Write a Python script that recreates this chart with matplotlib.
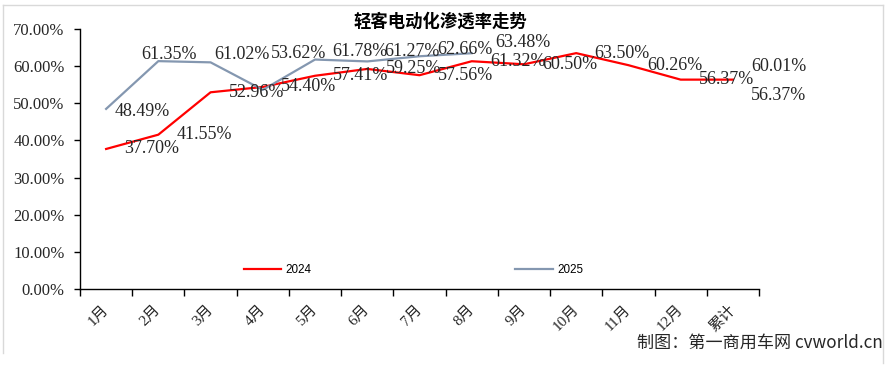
import numpy as np
import matplotlib
matplotlib.use('Agg')
import matplotlib.pyplot as plt
import matplotlib.transforms as mtransforms
from matplotlib.lines import Line2D

# 数据
categories = ['1月', '2月', '3月', '4月', '5月', '6月', '7月', '8月', '9月',
              '10月', '11月', '12月', '累计']
rate_2024 = [37.70, 41.55, 52.96, 54.40, 57.41, 59.25, 57.56, 61.32, 60.50,
             63.50, 60.26, 56.37, 56.37]
rate_2025 = [48.49, 61.35, 61.02, 53.62, 61.78, 61.27, 62.66, 63.48, np.nan,
             np.nan, np.nan, np.nan, 60.01]
yticks = [0, 10, 20, 30, 40, 50, 60, 70]

# 标签偏移 (像素)
off_2024 = [(46, 0)] * 12 + [(46, 16)]
off_2025 = [(36, 3), (11, -7), (31, -8), (36, -36), (45, -8), (45, -10),
            (45, -7), (51, -11), None, None, None, None, (46, 0)]

RED = '#FF0000'
GRAY = '#8497B0'
TXT = '#262626'
num_font = ['Liberation Serif', 'Noto Sans CJK SC']

fig = plt.figure(figsize=(8.88, 3.65), dpi=100)
ax = fig.add_axes([80 / 888, 1 - 289 / 365, 679 / 888, 260 / 365])

x = np.arange(len(categories))
ax.plot(x, rate_2024, color=RED, lw=1.6, label='2024')
ax.plot(x, rate_2025, color=GRAY, lw=1.6, label='2025')

px = 72 / 100  # 像素 -> 点
for i, v in enumerate(rate_2024):
    dx, dy = off_2024[i]
    ax.annotate(f'{v:.2f}%', (i, v), xytext=(dx * px, -dy * px),
                textcoords='offset points', ha='center', va='center',
                fontsize=13, family=num_font, color=TXT)
for i, v in enumerate(rate_2025):
    if off_2025[i] is None or np.isnan(v):
        continue
    dx, dy = off_2025[i]
    ax.annotate(f'{v:.2f}%', (i, v), xytext=(dx * px, -dy * px),
                textcoords='offset points', ha='center', va='center',
                fontsize=13, family=num_font, color=TXT)

ax.set_xlim(-0.5, len(categories) - 0.5)
ax.set_ylim(0, 70)
ax.set_yticks(yticks)
ax.set_yticklabels([f'{t:.2f}%' for t in yticks], family=num_font,
                   fontsize=12, color=TXT)
ax.tick_params(axis='y', length=4, width=1, pad=7, direction='out')

ax.set_xticks(np.arange(-0.5, len(categories)), minor=False)
ax.set_xticklabels([])
ax.set_xticks(x, minor=True)
ax.set_xticklabels(categories, minor=True, rotation=45, ha='right',
                   family=num_font, fontsize=11, color=TXT)
ax.tick_params(axis='x', which='major', length=5, width=1, direction='out')
ax.tick_params(axis='x', which='minor', length=0, pad=10)
shift = mtransforms.ScaledTranslation(5 / 100, 0, fig.dpi_scale_trans)
for lab in ax.get_xticklabels(minor=True):
    lab.set_transform(lab.get_transform() + shift)

for s in ['top', 'right']:
    ax.spines[s].set_visible(False)
for s in ['left', 'bottom']:
    ax.spines[s].set_color('black')
    ax.spines[s].set_linewidth(1)

ax.legend(loc='center', bbox_to_anchor=(0.491, 0.073), ncol=2, frameon=False,
          prop={'family': 'Liberation Sans', 'size': 8.4},
          handlelength=3.2, handletextpad=0.35, columnspacing=17.5)

fig.text(440 / 888, 1 - 22 / 365, '轻客电动化渗透率走势', ha='center', va='center',
         fontsize=12.5, fontweight='bold', family='Noto Sans CJK SC', color='black')
fig.text(883 / 888, 1 - 343 / 365, '制图：第一商用车网 cvworld.cn', ha='right',
         va='center', fontsize=12.3, family='Noto Sans CJK SC', color=TXT)

# 外框
bc = '#D9D9D9'
for xs, ys in [([3, 3], [4.5, 353]), ([3, 883], [4.5, 4.5]), ([883, 883], [4.5, 363])]:
    fig.add_artist(Line2D([v / 888 for v in xs], [1 - v / 365 for v in ys],
                          color=bc, lw=1))

fig.savefig('out.png', dpi=100)
